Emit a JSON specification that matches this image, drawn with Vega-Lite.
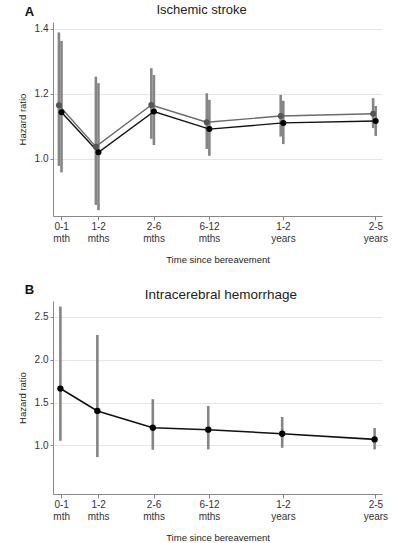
{
  "$schema": "https://vega.github.io/schema/vega-lite/v6.json",
  "background": "white",
  "padding": {"left": 17, "top": 4, "right": 0, "bottom": 2},
  "config": {
    "font": "Liberation Sans",
    "view": {"stroke": null},
    "axis": {
      "labelFont": "Liberation Sans",
      "titleFont": "Liberation Sans",
      "labelColor": "#333",
      "titleColor": "#222",
      "labelFontSize": 10,
      "titleFontSize": 9.5,
      "titleFontWeight": "normal",
      "domainColor": "#888",
      "tickColor": "#888",
      "gridColor": "#e6e6e6",
      "tickSize": 4
    }
  },
  "datasets": {
    "a": [
      {"series": "s1", "period": "0-1 mth", "pos": -0.06, "hr": 1.164, "lo": 0.978, "hi": 1.388},
      {"series": "s1", "period": "1-2 mths", "pos": 0.94, "hr": 1.037, "lo": 0.858, "hi": 1.252},
      {"series": "s1", "period": "2-6 mths", "pos": 2.44, "hr": 1.165, "lo": 1.061, "hi": 1.278},
      {"series": "s1", "period": "6-12 mths", "pos": 3.94, "hr": 1.112, "lo": 1.030, "hi": 1.201},
      {"series": "s1", "period": "1-2 years", "pos": 5.94, "hr": 1.131, "lo": 1.068, "hi": 1.196},
      {"series": "s1", "period": "2-5 years", "pos": 8.44, "hr": 1.138, "lo": 1.094, "hi": 1.186},
      {"series": "s2", "period": "0-1 mth", "pos": 0.01, "hr": 1.143, "lo": 0.958, "hi": 1.362},
      {"series": "s2", "period": "1-2 mths", "pos": 1.01, "hr": 1.020, "lo": 0.842, "hi": 1.232},
      {"series": "s2", "period": "2-6 mths", "pos": 2.51, "hr": 1.145, "lo": 1.042, "hi": 1.257},
      {"series": "s2", "period": "6-12 mths", "pos": 4.01, "hr": 1.091, "lo": 1.009, "hi": 1.181},
      {"series": "s2", "period": "1-2 years", "pos": 6.01, "hr": 1.110, "lo": 1.045, "hi": 1.178},
      {"series": "s2", "period": "2-5 years", "pos": 8.51, "hr": 1.116, "lo": 1.070, "hi": 1.162}
    ],
    "b": [
      {"series": "s2", "period": "0-1 mth", "pos": -0.02, "hr": 1.663, "lo": 1.054, "hi": 2.619},
      {"series": "s2", "period": "1-2 mths", "pos": 0.98, "hr": 1.402, "lo": 0.863, "hi": 2.288},
      {"series": "s2", "period": "2-6 mths", "pos": 2.48, "hr": 1.206, "lo": 0.949, "hi": 1.539},
      {"series": "s2", "period": "6-12 mths", "pos": 3.98, "hr": 1.183, "lo": 0.953, "hi": 1.460},
      {"series": "s2", "period": "1-2 years", "pos": 5.98, "hr": 1.136, "lo": 0.972, "hi": 1.331},
      {"series": "s2", "period": "2-5 years", "pos": 8.48, "hr": 1.070, "lo": 0.953, "hi": 1.203}
    ]
  },
  "vconcat": [
    {
      "width": 329,
      "height": 194,
      "data": {"name": "a"},
      "encoding": {
        "x": {
          "field": "pos", "type": "quantitative",
          "scale": {"domain": [-0.22, 8.68], "nice": false, "zero": false},
          "axis": {
            "title": "Time since bereavement", "grid": false, "titlePadding": 11,
            "values": [0, 1, 2.5, 4, 6, 8.5], "labelLineHeight": 12, "labelPadding": 1,
            "labelExpr": "datum.value == 0 ? ['0-1','mth'] : datum.value == 1 ? ['1-2','mths'] : datum.value == 2.5 ? ['2-6','mths'] : datum.value == 4 ? ['6-12','mths'] : datum.value == 6 ? ['1-2','years'] : ['2-5','years']"
          }
        }
      },
      "layer": [
        {
          "mark": {"type": "rule", "color": "#858585", "strokeWidth": 2.6},
          "encoding": {
            "y": {"field": "lo", "type": "quantitative",
              "scale": {"domain": [0.824, 1.42], "nice": false, "zero": false},
              "axis": {"title": "Hazard ratio", "values": [1.0, 1.2, 1.4], "format": ".1f", "titlePadding": 7, "tickSize": 3}},
            "y2": {"field": "hi"}
          }
        },
        {
          "mark": {"type": "line", "strokeWidth": 1.4},
          "encoding": {
            "y": {"field": "hr", "type": "quantitative"},
            "color": {"field": "series", "type": "nominal", "scale": {"domain": ["s1", "s2"], "range": ["#6a6a6a", "#111111"]}, "legend": null}
          }
        },
        {
          "mark": {"type": "point", "filled": true, "opacity": 1, "size": 36},
          "encoding": {
            "y": {"field": "hr", "type": "quantitative"},
            "color": {"field": "series", "type": "nominal", "scale": {"domain": ["s1", "s2"], "range": ["#555555", "#000000"]}, "legend": null}
          }
        },
        {
          "transform": [{"filter": "datum.series == 's2' && datum.period == '0-1 mth'"}],
          "mark": {"type": "text", "text": "A", "fontWeight": "bold", "fontSize": 13, "color": "#111", "baseline": "middle", "align": "center"},
          "encoding": {"x": {"datum": -0.86}, "y": {"datum": 1.450}}
        },
        {
          "transform": [{"filter": "datum.series == 's2' && datum.period == '0-1 mth'"}],
          "mark": {"type": "text", "text": "Ischemic stroke", "fontSize": 13, "color": "#222", "baseline": "middle", "align": "center"},
          "encoding": {"x": {"datum": 3.80}, "y": {"datum": 1.456}}
        }
      ],
      "resolve": {"scale": {"color": "independent"}}
    },
    {
      "width": 329,
      "height": 193,
      "data": {"name": "b"},
      "encoding": {
        "x": {
          "field": "pos", "type": "quantitative",
          "scale": {"domain": [-0.22, 8.68], "nice": false, "zero": false},
          "axis": {
            "title": "Time since bereavement", "grid": false, "titlePadding": 11,
            "values": [0, 1, 2.5, 4, 6, 8.5], "labelLineHeight": 12, "labelPadding": 1,
            "labelExpr": "datum.value == 0 ? ['0-1','mth'] : datum.value == 1 ? ['1-2','mths'] : datum.value == 2.5 ? ['2-6','mths'] : datum.value == 4 ? ['6-12','mths'] : datum.value == 6 ? ['1-2','years'] : ['2-5','years']"
          }
        }
      },
      "layer": [
        {
          "mark": {"type": "rule", "color": "#858585", "strokeWidth": 2.6},
          "encoding": {
            "y": {"field": "lo", "type": "quantitative",
              "scale": {"domain": [0.433, 2.684], "nice": false, "zero": false},
              "axis": {"title": "Hazard ratio", "values": [1.0, 1.5, 2.0, 2.5], "format": ".1f", "titlePadding": 7, "tickSize": 3}},
            "y2": {"field": "hi"}
          }
        },
        {
          "mark": {"type": "line", "strokeWidth": 1.6, "color": "#111"},
          "encoding": {"y": {"field": "hr", "type": "quantitative"}}
        },
        {
          "mark": {"type": "point", "filled": true, "opacity": 1, "size": 40, "color": "#000"},
          "encoding": {"y": {"field": "hr", "type": "quantitative"}}
        },
        {
          "transform": [{"filter": "datum.period == '0-1 mth'"}],
          "mark": {"type": "text", "text": "B", "fontWeight": "bold", "fontSize": 13, "color": "#111", "baseline": "middle", "align": "center"},
          "encoding": {"x": {"datum": -0.86}, "y": {"datum": 2.807}}
        },
        {
          "transform": [{"filter": "datum.period == '0-1 mth'"}],
          "mark": {"type": "text", "text": "Intracerebral hemorrhage", "fontSize": 13.5, "color": "#222", "baseline": "middle", "align": "center"},
          "encoding": {"x": {"datum": 4.32}, "y": {"datum": 2.754}}
        }
      ]
    }
  ],
  "spacing": 20
}
